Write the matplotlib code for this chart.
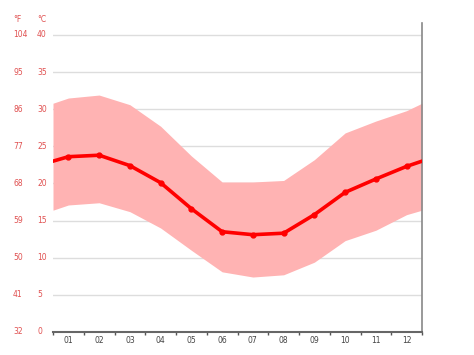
import matplotlib.pyplot as plt
import numpy as np

months = ['01', '02', '03', '04', '05', '06', '07', '08', '09', '10', '11', '12']
mean_temp = [23.6, 23.8, 22.4, 20.1, 16.6, 13.5, 13.1, 13.3, 15.8, 18.8, 20.6, 22.3]
max_temp = [31.5, 31.9, 30.6, 27.7, 23.7, 20.2, 20.2, 20.4, 23.2, 26.8, 28.4, 29.8]
min_temp = [17.1, 17.4, 16.2, 14.0, 11.0, 8.1, 7.4, 7.7, 9.4, 12.3, 13.7, 15.8]
# values read at the left/right edges of the plot (Dec/Jan boundary)
edge_mean = 23.0
edge_max = 30.8
edge_min = 16.4

c_ticks = [0, 5, 10, 15, 20, 25, 30, 35, 40]
f_ticks = [32, 41, 50, 59, 68, 77, 86, 95, 104]

x = np.arange(1, 13)
xe = np.concatenate([[0.5], x, [12.5]])
mean_e = [edge_mean] + mean_temp + [edge_mean]
max_e = [edge_max] + max_temp + [edge_max]
min_e = [edge_min] + min_temp + [edge_min]

fig = plt.figure(figsize=(4.74, 3.55), dpi=100)
ax = fig.add_axes([53 / 474, 1 - 332 / 355, (422 - 53) / 474, (332 - 23) / 355])

for t in c_ticks[1:]:
    ax.axhline(t, color='#dddddd', lw=1, zorder=0)

ax.fill_between(xe, min_e, max_e, color='#ffb3b3', lw=0, zorder=1)
ax.plot(xe, mean_e, color='#ff0000', lw=2.6, zorder=3)
ax.plot(x, mean_temp, 'o', color='#ff0000', ms=3.5, zorder=4)

ax.set_xlim(0.5, 12.5)
ax.set_ylim(0, 41.6)

for s in ['top', 'left']:
    ax.spines[s].set_visible(False)
ax.spines['right'].set_color('#888888')
ax.spines['right'].set_linewidth(1.2)
ax.spines['bottom'].set_color('#666666')
ax.spines['bottom'].set_linewidth(1.5)

# ticks at month boundaries, labels at month centres
ax.set_xticks(np.arange(0.5, 13, 1))
ax.set_xticklabels([])
ax.tick_params(axis='x', direction='out', length=2.5, width=1, color='#555555')
ax.set_xticks(x, minor=True)
ax.set_xticklabels(months, minor=True, fontsize=5.5, color='#444444')
ax.tick_params(axis='x', which='minor', length=0, pad=3)
ax.set_yticks([])

# two columns of temperature labels (°F and °C) on the left
px_per_deg = (332 - 23) / 41.6
def fig_y(v):
    return 1 - (332 - v * px_per_deg) / 355

for c, f in zip(c_ticks, f_ticks):
    fig.text(13 / 474, fig_y(c), str(f), fontsize=5.5, color='#e05050', va='center', ha='left')
    fig.text(37 / 474, fig_y(c), str(c), fontsize=5.5, color='#e05050', va='center', ha='left')
fig.text(13 / 474, 1 - 20 / 355, '°F', fontsize=5.5, color='#e05050', va='center', ha='left')
fig.text(37 / 474, 1 - 20 / 355, '°C', fontsize=5.5, color='#e05050', va='center', ha='left')

fig.savefig('out.png', dpi=100)
